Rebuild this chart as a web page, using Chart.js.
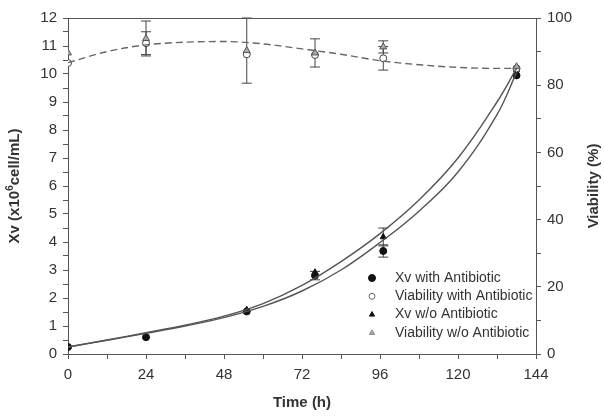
<!DOCTYPE html>
<html>
<head>
<meta charset="utf-8">
<script src="https://cdn.jsdelivr.net/npm/chart.js@4.4.1/dist/chart.umd.min.js"></script>
<style>
  html, body { margin: 0; padding: 0; background: #fff; }
  #wrap { width: 604px; height: 416px; }
</style>
</head>
<body>
<div id="wrap"><canvas id="chart"></canvas></div>
<script>
// sampling times (h) and measured values
const hours = [0, 24, 55, 76, 97, 138];
const xvWith = [0.25, 0.6, 1.52, 2.8, 3.68, 9.95];
const xvWithErr = [0, 0, 0, 0.15, 0.22, 0];
const xvWithout = [0.27, 0.62, 1.58, 2.92, 4.18, 10.15];
const xvWithoutErr = [0, 0, 0, 0, 0.32, 0];
const viabWith = [86.6, 92.5, 89.2, 89.0, 88.0, 85.0];
const viabWithErr = [0, 3.4, 0, 0, 3.5, 0];
const viabWithout = [89.6, 93.9, 90.3, 89.6, 91.4, 85.5];
const viabWithoutErr = [0, 5.2, 9.7, 4.2, 1.8, 0];

// fitted curves
const fitHours = [0, 12, 24, 36, 48, 60, 72, 84, 96, 108, 120, 132, 138];
const fitXvWithout = [0.25, 0.5, 0.76, 1.03, 1.35, 1.8, 2.45, 3.3, 4.3, 5.5, 7.0, 9.0, 10.2];
const fitXvWith = [0.25, 0.49, 0.74, 1.0, 1.3, 1.7, 2.25, 3.0, 3.98, 5.1, 6.5, 8.55, 10.05];
const fitViab = [86.7, 90.0, 92.0, 92.8, 93.0, 92.3, 90.8, 89.2, 87.3, 86.1, 85.3, 85.0, 85.0];

const FONT = "'Liberation Sans', Arial, sans-serif";
const AXIS = '#555';

const pts = (xs, ys) => xs.map((x, i) => ({ x: x, y: ys[i] }));

const errorBars = {
  id: 'errorBars',
  beforeDatasetsDraw(chart) {
    const ctx = chart.ctx;
    ctx.save();
    ctx.strokeStyle = '#444';
    ctx.lineWidth = 1;
    chart.data.datasets.forEach(ds => {
      if (!ds.errors) return;
      const xs = chart.scales.x, ys = chart.scales[ds.yAxisID];
      ds.data.forEach((p, i) => {
        const e = ds.errors[i];
        if (!e) return;
        const px = xs.getPixelForValue(p.x);
        const top = ys.getPixelForValue(p.y + e);
        const bot = ys.getPixelForValue(p.y - e);
        ctx.beginPath();
        ctx.moveTo(px, top); ctx.lineTo(px, bot);
        ctx.moveTo(px - 5, top); ctx.lineTo(px + 5, top);
        ctx.moveTo(px - 5, bot); ctx.lineTo(px + 5, bot);
        ctx.stroke();
      });
    });
    ctx.restore();
  }
};

const frame = {
  id: 'frame',
  afterDraw(chart) {
    const { ctx, chartArea: a } = chart;
    ctx.save();
    ctx.strokeStyle = AXIS;
    ctx.lineWidth = 1;
    ctx.beginPath();
    ctx.moveTo(a.left, a.top + 0.5);
    ctx.lineTo(a.right, a.top + 0.5);
    ctx.stroke();

    // axis titles
    ctx.fillStyle = '#333';
    ctx.textBaseline = 'middle';
    const big = 'bold 15px ' + FONT, small = 'bold 10px ' + FONT;
    const parts = ['Xv (x10', '6', 'cell/mL)'];
    ctx.font = big;
    const w0 = ctx.measureText(parts[0]).width, w2 = ctx.measureText(parts[2]).width;
    ctx.font = small;
    const w1 = ctx.measureText(parts[1]).width;
    const total = w0 + w1 + w2;
    ctx.translate(15, 186);
    ctx.rotate(-Math.PI / 2);
    ctx.textAlign = 'left';
    ctx.font = big;
    ctx.fillText(parts[0], -total / 2, 0);
    ctx.font = small;
    ctx.fillText(parts[1], -total / 2 + w0, -5);
    ctx.font = big;
    ctx.fillText(parts[2], -total / 2 + w0 + w1, 0);
    ctx.setTransform(1, 0, 0, 1, 0, 0);

    ctx.textAlign = 'center';
    ctx.translate(594, 186);
    ctx.rotate(-Math.PI / 2);
    ctx.fillText('Viability (%)', 0, 0);
    ctx.setTransform(1, 0, 0, 1, 0, 0);
    ctx.fillText('Time (h)', 302, 403);

    // legend inside the plot
    const rows = [
      ['Xv with Antibiotic', { pointStyle: 'circle', radius: 3.5, borderWidth: 1 }, '#111', '#111'],
      ['Viability with Antibiotic', { pointStyle: 'circle', radius: 3, borderWidth: 1 }, '#fff', '#666'],
      ['Xv w/o Antibiotic', { pointStyle: 'triangle', radius: 3, borderWidth: 1 }, '#111', '#111'],
      ['Viability w/o Antibiotic', { pointStyle: 'triangle', radius: 3, borderWidth: 1 }, '#aaa', '#888']
    ];
    ctx.font = '14px ' + FONT;
    ctx.textAlign = 'left';
    rows.forEach((r, i) => {
      const y = 278 + i * 18.3;
      ctx.fillStyle = r[2];
      ctx.strokeStyle = r[3];
      ctx.lineWidth = 1;
      Chart.helpers.drawPoint(ctx, r[1], 372, y);
      ctx.fillStyle = '#333';
      ctx.fillText(r[0], 395, y);
    });
    ctx.restore();
  }
};

const tickFont = { family: FONT, size: 15 };

new Chart(document.getElementById('chart'), {
  type: 'line',
  data: {
    datasets: [
      {
        data: pts(fitHours, fitXvWithout), yAxisID: 'y',
        borderColor: '#555', borderWidth: 1.4, pointRadius: 0, tension: 0.4
      },
      {
        data: pts(fitHours, fitXvWith), yAxisID: 'y',
        borderColor: '#555', borderWidth: 1.4, pointRadius: 0, tension: 0.4
      },
      {
        data: pts(fitHours, fitViab), yAxisID: 'y2',
        borderColor: '#666', borderWidth: 1.4, borderDash: [7, 4], pointRadius: 0, tension: 0.4, cubicInterpolationMode: 'monotone'
      },
      {
        label: 'Viability w/o Antibiotic', data: pts(hours, viabWithout), errors: viabWithoutErr, yAxisID: 'y2',
        showLine: false, pointStyle: 'triangle', pointRadius: 4, backgroundColor: '#aaa', borderColor: '#555', pointBorderWidth: 1
      },
      {
        label: 'Viability with Antibiotic', data: pts(hours, viabWith), errors: viabWithErr, yAxisID: 'y2',
        showLine: false, pointStyle: 'circle', pointRadius: 3.5, backgroundColor: '#fff', borderColor: '#444', pointBorderWidth: 1
      },
      {
        label: 'Xv with Antibiotic', data: pts(hours, xvWith), errors: xvWithErr, yAxisID: 'y',
        showLine: false, pointStyle: 'circle', pointRadius: 3.5, backgroundColor: '#111', borderColor: '#111', pointBorderWidth: 1
      },
      {
        label: 'Xv w/o Antibiotic', data: pts(hours, xvWithout), errors: xvWithoutErr, yAxisID: 'y',
        showLine: false, pointStyle: 'triangle', pointRadius: 3.5, backgroundColor: '#111', borderColor: '#111', pointBorderWidth: 1
      }
    ]
  },
  options: {
    responsive: true,
    maintainAspectRatio: false,
    devicePixelRatio: 1,
    animation: false,
    layout: { padding: { top: 18, left: 0, right: 0, bottom: 0 } },
    plugins: { legend: { display: false }, tooltip: { enabled: false } },
    scales: {
      x: {
        type: 'linear', min: 0, max: 144,
        afterFit: s => { s.height = 62; },
        ticks: { stepSize: 12, autoSkip: false, maxRotation: 0, padding: 7, color: '#333', font: tickFont,
          callback: v => (v % 24 === 0 ? v : '') },
        grid: { drawOnChartArea: false, tickLength: 5, color: AXIS },
        border: { color: AXIS }
      },
      y: {
        position: 'left', min: 0, max: 12,
        afterFit: s => { s.width = 68; },
        ticks: { stepSize: 0.5, autoSkip: false, padding: 6, color: '#333', font: tickFont,
          callback: v => (Number.isInteger(v) ? v : '') },
        grid: { drawOnChartArea: false, tickLength: 5, color: AXIS },
        border: { color: AXIS }
      },
      y2: {
        position: 'right', min: 0, max: 100,
        afterFit: s => { s.width = 68; },
        ticks: { stepSize: 10, autoSkip: false, padding: 6, color: '#333', font: tickFont,
          callback: v => (v % 20 === 0 ? v : '') },
        grid: { drawOnChartArea: false, tickLength: 5, color: AXIS },
        border: { color: AXIS }
      }
    }
  },
  plugins: [errorBars, frame]
});
</script>
</body>
</html>
